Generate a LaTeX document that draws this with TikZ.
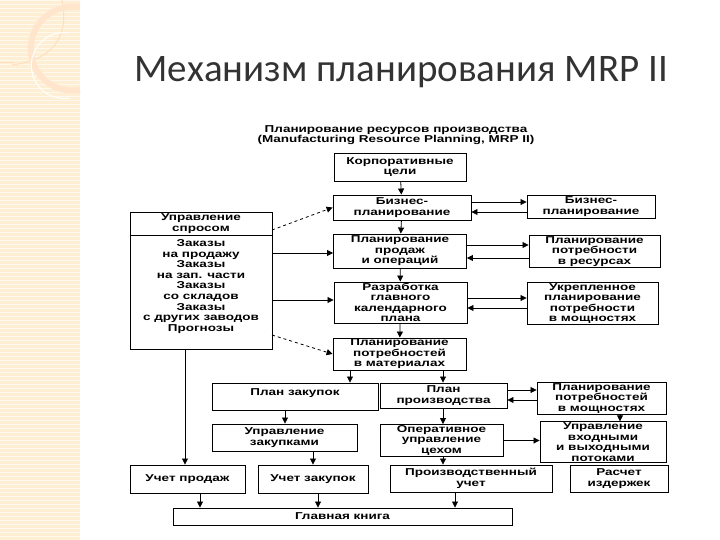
\documentclass[tikz,border=0pt]{standalone}
\usepackage{fontspec}
\setmainfont{Liberation Sans}
\newfontfamily\titlefont{Carlito}
\newfontfamily\wide{Liberation Sans}[FakeStretch=1.35]
\usetikzlibrary{arrows.meta}
\begin{document}
\begin{tikzpicture}[x=1pt,y=-1pt,
  fnt/.style={font=\wide\bfseries\fontsize{10}{10.5}\selectfont},
  bx/.style={draw,line width=0.9pt,align=center,fnt,inner sep=1pt},
  ar/.style={-{Triangle[length=6pt,width=6pt]},line width=0.8pt},
  da/.style={ar,dashed}]
\useasboundingbox (0,0) rectangle (720,540);
\fill[white] (0,0) rectangle (720,540);
% decorative strip
\fill[yellow!25!orange!15] (0,0) rectangle (80,540);
\foreach \y in {0,4,...,540} \draw[white,line width=0.6pt,opacity=0.6] (0,\y) -- (80,\y);
\draw[orange!25,line width=1pt] (0,63) -- (14,63);
\draw[orange!25,line width=1pt] (62,0) .. controls (70,40) and (50,60) .. (12,65);
\draw[orange!20,line width=6pt] (80,90) arc[start angle=80,end angle=280,radius=42];
\draw[white,line width=1pt] (70,98) arc[start angle=80,end angle=280,radius=33];
\node[anchor=base west,font=\titlefont\fontsize{39}{39}\selectfont,text=black!80] (title) at (131,82) {Механизм планирования MRP II};
\node[fnt,align=center] (sub) at (396,135) {Планирование ресурсов производства\\(Manufacturing Resource Planning, MRP II)};
% boxes
\node[bx,minimum width=132,minimum height=28] (korp) at (400,167) {Корпоративные\\цели};
\node[bx,minimum width=138,minimum height=25] (biz) at (402,207.5) {Бизнес-\\планирование};
\node[bx,minimum width=128,minimum height=23] (biz2) at (591,206.5) {Бизнес-\\планирование};
\node[bx,minimum width=133,minimum height=34] (pp) at (400,251) {Планирование\\продаж\\и операций};
\node[bx,minimum width=131,minimum height=31] (rr) at (594.5,251.5) {Планирование\\потребности\\в ресурсах};
\node[bx,minimum width=133,minimum height=41] (raz) at (400.5,302.5) {Разработка\\главного\\календарного\\плана};
\node[bx,minimum width=131,minimum height=39] (ukr) at (592.5,303.5) {Укрепленное\\планирование\\потребности\\в мощностях};
\node[bx,minimum width=133,minimum height=32] (ppm) at (399.5,354) {Планирование\\потребностей\\в материалах};
% left box
\draw[line width=0.9pt] (130,212) rectangle (272,349);
\draw[line width=0.9pt] (130,235) -- (272,235);
\node[fnt,align=center] (us) at (201,223.5) {Управление\\спросом};
\node[font=\wide\bfseries\fontsize{10}{10.6}\selectfont,align=center,anchor=north] (zak) at (201,236) {Заказы\\на продажу\\Заказы\\на зап. части\\Заказы\\со складов\\Заказы\\с других заводов\\Прогнозы};
\coordinate (l1) at (272,230); \coordinate (l2) at (272,253);
\coordinate (l3) at (272,300); \coordinate (l4) at (272,335);
\coordinate (lb) at (185,349);
\node[bx,minimum width=166,minimum height=27,text depth=8pt] (pz) at (295,396.5) {План закупок};
\node[bx,minimum width=127,minimum height=25] (pr) at (443.5,395.5) {План\\производства};
\node[bx,minimum width=129,minimum height=31] (pm) at (601.5,398.5) {Планирование\\потребностей\\в мощностях};
\node[bx,minimum width=145,minimum height=27] (uz) at (284.5,437.5) {Управление\\закупками};
\node[bx,minimum width=123,minimum height=31] (ou) at (441.5,440.5) {Оперативное\\управление\\цехом};
\node[bx,minimum width=126,minimum height=38] (uv) at (603,442) {Управление\\входными\\и выходными\\потоками};
\node[bx,minimum width=115,minimum height=28] (up) at (187.5,479) {Учет продаж};
\node[bx,minimum width=110,minimum height=28] (uzk) at (313,479) {Учет закупок};
\node[bx,minimum width=162,minimum height=27] (pu) at (471,478.5) {Производственный\\учет};
\node[bx,minimum width=98,minimum height=27] (rs) at (619,478.5) {Расчет\\издержек};
\node[bx,minimum width=339,minimum height=17] (gk) at (342.5,516.5) {Главная книга};
% arrows vertical
\draw[ar] (korp) -- (biz);
\draw[ar] (biz) -- (pp);
\draw[ar] (pp) -- (raz);
\draw[ar] (raz) -- (ppm);
\draw[ar] (ppm.south -| 350,0) -- (pz.north -| 350,0);
\draw[ar] (ppm.south -| 443,0) -- (pr.north -| 443,0);
\draw[ar] (pz.south -| 285,0) -- (uz.north -| 285,0);
\draw[ar] (uz.south -| 313,0) -- (uzk.north -| 313,0);
\draw[ar] (pr.south -| 443,0) -- (ou.north -| 443,0);
\draw[ar] (pm.south -| 620,0) -- (uv.north -| 620,0);
\draw[ar] (ou.south -| 443,0) -- (pu.north -| 443,0);
\draw[ar] (lb) -- (up.north -| lb);
\draw[ar] (up.south -| 200,0) -- (gk.north -| 200,0);
\draw[ar] (uzk.south -| 318,0) -- (gk.north -| 318,0);
\draw[ar] (pu.south -| 455,0) -- (gk.north -| 455,0);
% horizontal pairs
\draw[ar] (biz.east |- 0,202) -- (biz2.west |- 0,202);
\draw[ar] (biz2.west |- 0,212) -- (biz.east |- 0,212);
\draw[ar] (pp.east |- 0,245) -- (rr.west |- 0,245);
\draw[ar] (rr.west |- 0,258) -- (pp.east |- 0,258);
\draw[ar] (raz.east |- 0,298) -- (ukr.west |- 0,298);
\draw[ar] (ukr.west |- 0,308) -- (raz.east |- 0,308);
\draw[ar] (pr.east |- 0,390) -- (pm.west |- 0,390);
\draw[ar] (pm.west |- 0,400) -- (pr.east |- 0,400);
\draw[ar] (ou) -- (uv.west |- ou);
% from left box
\draw[da] (l1) -- (biz.west);
\draw[ar] (l2) -- (pp.west |- l2);
\draw[ar] (l3) -- (raz.west |- l3);
\draw[da] (l4) -- (ppm.west);
\end{tikzpicture}
\end{document}
